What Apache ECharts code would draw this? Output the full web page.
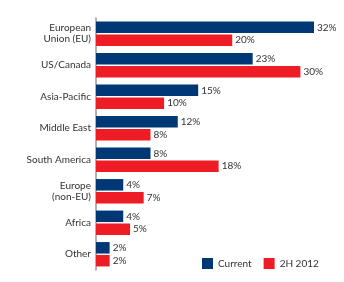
<!DOCTYPE html>
<html>
<head>
<meta charset="utf-8">
<script src="https://cdn.jsdelivr.net/npm/echarts@6/dist/echarts.min.js"></script>
<style>
html,body{margin:0;padding:0;background:#fff;}
#chart{width:344px;height:282px;}
</style>
</head>
<body>
<div id="chart"></div>
<script>
var categories = ['European\nUnion (EU)', 'US/Canada', 'Asia-Pacific', 'Middle East', 'South America', 'Europe\n(non-EU)', 'Africa', 'Other'];
var currentValues = [32, 23, 15, 12, 8, 4, 4, 2];
var h2012Values = [20, 30, 10, 8, 18, 7, 5, 2];
var seriesNames = ['Current', '2H 2012'];

var FONT = 'Lato';
var chart = echarts.init(document.getElementById('chart'), null, {renderer: 'canvas'});
var labelOpt = {
  show: true, position: 'right', distance: 3,
  formatter: function (p) { return p.value + '%'; },
  color: '#333', fontFamily: FONT, fontSize: 10
};
chart.setOption({
  animation: false,
  textStyle: {fontFamily: FONT},
  grid: {left: 96, top: 18, bottom: 12, right: 30, containLabel: false},
  legend: {
    data: seriesNames,
    left: 197, top: 253,
    itemWidth: 11, itemHeight: 11, itemGap: 12,
    icon: 'rect',
    textStyle: {color: '#333', fontFamily: FONT, fontSize: 10}
  },
  xAxis: {
    type: 'value', min: 0, max: 32,
    show: false
  },
  yAxis: {
    type: 'category', data: categories, inverse: true,
    axisLine: {show: true, lineStyle: {color: '#999', width: 1.5}},
    axisTick: {show: false},
    axisLabel: {color: '#333', fontFamily: FONT, fontSize: 10, lineHeight: 11, margin: 5}
  },
  series: [
    {name: seriesNames[0], type: 'bar', data: currentValues, barWidth: 11.5, barGap: '12%',
     itemStyle: {color: '#003876'}, label: labelOpt},
    {name: seriesNames[1], type: 'bar', data: h2012Values, barWidth: 11.5,
     itemStyle: {color: '#ee1c25'}, label: labelOpt}
  ]
});
</script>
</body>
</html>
